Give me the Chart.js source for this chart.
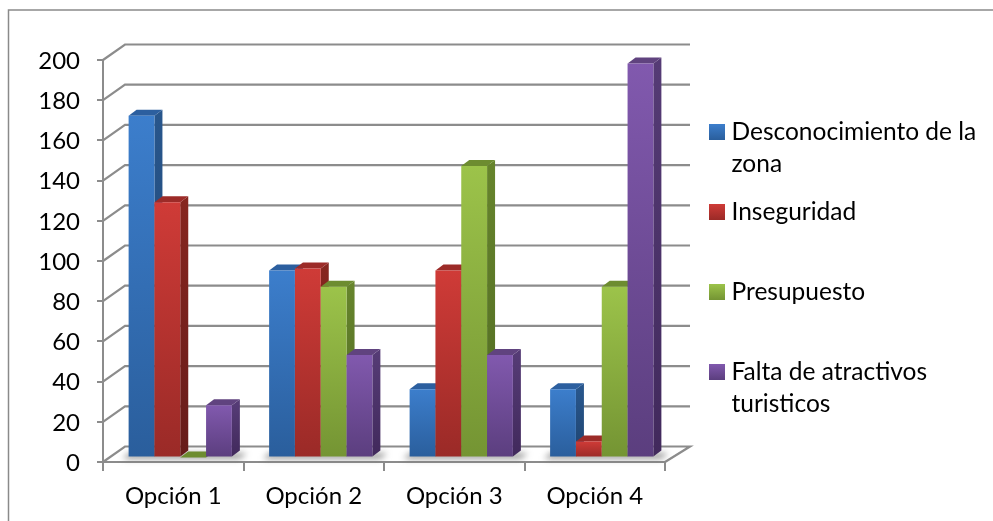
<!DOCTYPE html>
<html lang="es">
<head>
<meta charset="utf-8">
<title>Opciones</title>
<script src="https://cdn.jsdelivr.net/npm/chart.js@4"></script>
<style>
html,body{margin:0;padding:0;background:#fff;overflow:hidden}
canvas{display:block;filter:blur(0.45px)}
</style>
</head>
<body>
<canvas id="c" width="993" height="521"></canvas>
<script>
const categories = ["Opción 1", "Opción 2", "Opción 3", "Opción 4"];
const seriesNames = ["Desconocimiento de la zona", "Inseguridad", "Presupuesto", "Falta de atractivos turisticos"];
const desconocimiento = [170, 93, 34, 34];
const inseguridad = [127, 94, 93, 8];
const presupuesto = [0, 85, 145, 85];
const faltaAtractivos = [26, 51, 51, 196];
const seriesValues = [desconocimiento, inseguridad, presupuesto, faltaAtractivos];
const legendLines = [["Desconocimiento de la", "zona"], ["Inseguridad"], ["Presupuesto"], ["Falta de atractivos", "turisticos"]];

const palette = [
  {hi:"#3c7ecc", lo:"#2a5e9c", sideHi:"#28568c", sideLo:"#1f4470", top:"#2c5f9f"},
  {hi:"#cf3b37", lo:"#9a2a27", sideHi:"#86261f", sideLo:"#661c1a", top:"#9c2b28"},
  {hi:"#9cc34a", lo:"#749433", sideHi:"#66842c", sideLo:"#506a22", top:"#6d8c30"},
  {hi:"#8159ae", lo:"#5b3e7e", sideHi:"#553b75", sideLo:"#41295c", top:"#60437f"}
];
const GRID = "#8c8c8c";
const FONT = "Lato";
const wall = {dx:22, dy:-15.5, right:690};
const bar3d = {dx:8, dy:-6, shiftX:7, shiftY:-4.5};

function frontGradient(ctx) {
  const chart = ctx.chart, sc = chart.scales;
  const flat = palette[ctx.datasetIndex].hi;
  if (!sc || !sc.y || ctx.type !== "data") return flat;
  const top = sc.y.getPixelForValue(ctx.raw), base = sc.y.getPixelForValue(0);
  if (!isFinite(top) || !isFinite(base)) return flat;
  const g = chart.ctx.createLinearGradient(0, top, 0, Math.max(base, top + 1));
  g.addColorStop(0, palette[ctx.datasetIndex].hi);
  g.addColorStop(1, palette[ctx.datasetIndex].lo);
  return g;
}

const wallPlugin = {
  id: "wallPlugin",
  beforeDatasetsDraw(chart) {
    const {ctx, scales:{x, y}} = chart;
    const y0 = y.getPixelForValue(0);
    ctx.save();
    // frame
    ctx.strokeStyle = "#8a8a8a"; ctx.lineWidth = 1.5;
    ctx.beginPath(); ctx.moveTo(8.5, 530); ctx.lineTo(8.5, 10); ctx.lineTo(1000, 10); ctx.stroke();
    // walls
    ctx.strokeStyle = GRID; ctx.lineWidth = 2.2;
    y.ticks.forEach(t => {
      const py = y.getPixelForValue(t.value);
      ctx.beginPath();
      ctx.moveTo(x.left, py);
      ctx.lineTo(x.left + wall.dx, py + wall.dy);
      ctx.lineTo(wall.right, py + wall.dy);
      if (t.value === 0) ctx.lineTo(x.right, y0);
      ctx.stroke();
    });
    // floor shadows
    ctx.filter = "blur(3px)";
    ctx.fillStyle = "rgba(110,110,110,0.7)";
    const meta0 = chart.getDatasetMeta(0), meta3 = chart.getDatasetMeta(3);
    categories.forEach((_, i) => {
      const a = meta0.data[i], b = meta3.data[i];
      const l = a.x - a.width / 2 + bar3d.shiftX - 6;
      const r = b.x + b.width / 2 + bar3d.shiftX + 15;
      ctx.beginPath();
      ctx.moveTo(l, y0 - 3);
      ctx.lineTo(l + 6, y0 - 9);
      ctx.lineTo(r, y0 - 9);
      ctx.lineTo(r - 7, y0 - 3);
      ctx.closePath();
      ctx.fill();
    });
    ctx.restore();
  },
  beforeDatasetDraw() {
    return false; // drawn left to right below, so each front face covers its neighbour's side
  },
  afterDatasetsDraw(chart) {
    const {ctx} = chart;
    const {dx, dy} = bar3d;
    seriesNames.forEach((_, i) => {
      const meta = chart.getDatasetMeta(i);
      const p = palette[i];
      ctx.save();
      ctx.translate(bar3d.shiftX, bar3d.shiftY);
      meta.data.forEach(el => {
        const l = el.x - el.width / 2, r = el.x + el.width / 2, top = el.y, base = el.base;
        const g = ctx.createLinearGradient(0, top, 0, Math.max(base, top + 1));
        g.addColorStop(0, p.sideHi); g.addColorStop(1, p.sideLo);
        ctx.fillStyle = g;
        ctx.beginPath();
        ctx.moveTo(r, top); ctx.lineTo(r + dx, top + dy); ctx.lineTo(r + dx, base + dy); ctx.lineTo(r, base);
        ctx.closePath(); ctx.fill();
        ctx.fillStyle = p.top;
        ctx.beginPath();
        ctx.moveTo(l, top); ctx.lineTo(l + dx, top + dy); ctx.lineTo(r + dx, top + dy); ctx.lineTo(r, top);
        ctx.closePath(); ctx.fill();
      });
      meta.controller.draw();
      ctx.restore();
    });
  },
  afterDraw(chart) {
    const {ctx} = chart;
    ctx.save();
    ctx.font = "24.5px " + FONT;
    ctx.textBaseline = "alphabetic";
    legendLines.forEach((lines, i) => {
      const boxTop = 124 + i * 80;
      const g = ctx.createLinearGradient(0, boxTop, 0, boxTop + 16);
      g.addColorStop(0, palette[i].hi); g.addColorStop(1, palette[i].lo);
      ctx.fillStyle = g;
      ctx.fillRect(709, boxTop, 16, 16);
      ctx.fillStyle = "#000";
      lines.forEach((line, j) => ctx.fillText(line, 731.5, boxTop + 16 + j * 32));
    });
    ctx.restore();
  }
};

new Chart(document.getElementById("c"), {
  type: "bar",
  data: {
    labels: categories,
    datasets: seriesNames.map((name, i) => ({
      label: name,
      data: seriesValues[i],
      backgroundColor: frontGradient,
      borderWidth: 0,
      categoryPercentage: 0.735,
      barPercentage: 1
    }))
  },
  options: {
    responsive: false,
    animation: false,
    layout: {padding: {left: 0, top: 60, right: 328, bottom: 0}},
    plugins: {legend: {display: false}, tooltip: {enabled: false}, title: {display: false}},
    scales: {
      x: {
        afterFit: s => { s.height = 59; },
        grid: {offset: true, drawOnChartArea: false, drawTicks: true, tickLength: 9, color: GRID, lineWidth: 2},
        border: {display: true, color: GRID, width: 2},
        ticks: {color: "#000", font: {family: FONT, size: 24}, padding: 11, maxRotation: 0}
      },
      y: {
        min: 0, max: 200,
        afterFit: s => { s.width = 103; },
        grid: {drawOnChartArea: false, drawTicks: true, tickLength: 6, color: GRID, lineWidth: 2},
        border: {display: true, color: GRID, width: 2},
        ticks: {stepSize: 20, color: "#000", font: {family: FONT, size: 24}, padding: 17, labelOffset: 1}
      }
    }
  },
  plugins: [wallPlugin]
});
</script>
</body>
</html>
